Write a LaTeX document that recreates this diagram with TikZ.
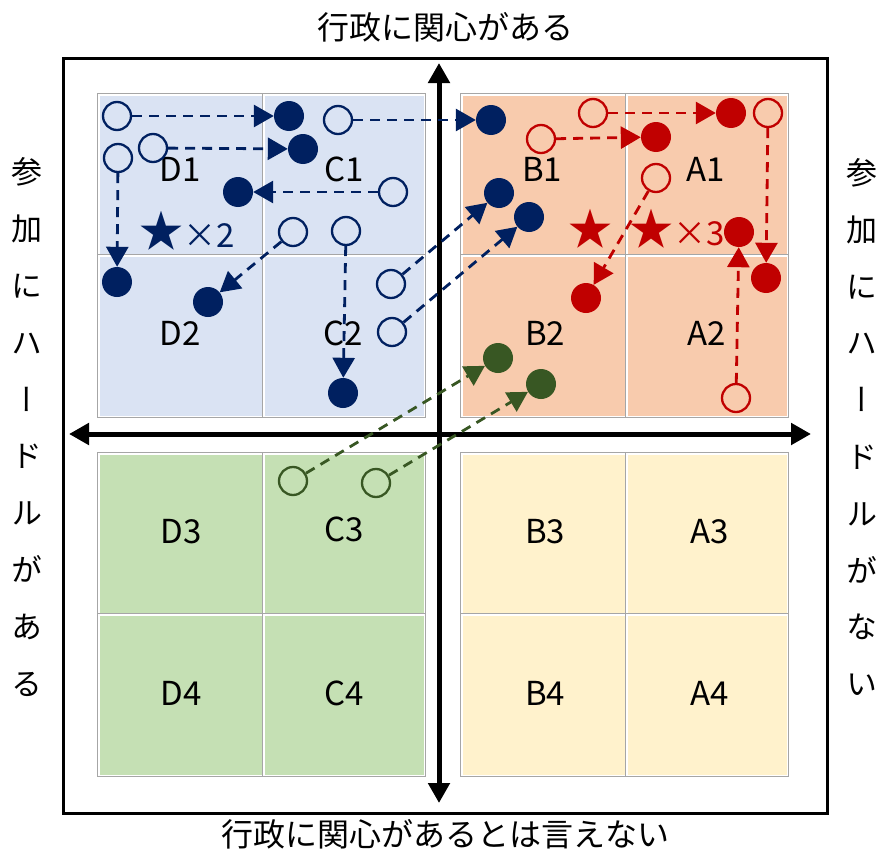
\documentclass[tikz,border=0pt]{standalone}
\usepackage{fontspec}
\setmainfont{Noto Sans CJK JP}
\newfontfamily\tatefont[RawFeature=+vert]{Noto Sans CJK JP}
\usetikzlibrary{arrows.meta}
\definecolor{navy}{HTML}{002060}
\definecolor{crimson}{HTML}{C00000}
\definecolor{moss}{HTML}{385723}
\definecolor{qblue}{HTML}{DAE3F3}
\definecolor{qorange}{HTML}{F8CBAD}
\definecolor{qgreen}{HTML}{C5E0B4}
\definecolor{qyellow}{HTML}{FFF2CC}
\newcommand{\bigstar}{{\fontsize{44}{44}\selectfont ★}}
\begin{document}
\begin{tikzpicture}[x=1pt,y=-1pt,
  cellframe/.style={draw=black!35, line width=0.8pt},
  celllabel/.style={font=\fontsize{33}{36}\selectfont, text=black, inner sep=0pt},
  axisline/.style={line width=5pt, {Triangle[length=20pt,width=21pt]}-{Triangle[length=20pt,width=21pt]}},
  before/.style={circle, minimum size=28pt, inner sep=0pt, line width=2.3pt, draw=#1},
  after/.style={circle, minimum size=30pt, inner sep=0pt, fill=#1},
  move/.style={draw=#1, line width=2.8pt, dash pattern=on 10pt off 7pt, -{Triangle[length=20pt,width=22pt]}},
  sidetext/.style={font=\tatefont\fontsize{31}{56.8}\selectfont, align=center, inner sep=0pt},
  axistext/.style={font=\fontsize{32}{36}\selectfont, inner sep=0pt},
  startext/.style={font=\fontsize{33}{36}\selectfont, text=#1, inner sep=0pt}
]
\useasboundingbox (0,0) rectangle (878,851);
\fill[white] (0,0) rectangle (878,851);

% outer frame
\draw[line width=3pt] (63,59) rectangle (827,813);

% quadrant frames and cells
\newcommand{\quadrant}[5]{% x0 y0 xm ym colour ; cells 3pt inset
  \draw[cellframe] (#1,#2) rectangle ++(328,324);
  \draw[cellframe] (#3,#2) -- ++(0,324);
  \draw[cellframe] (#1,#4) -- ++(328,0);
  \fill[#5] (#1+3,#2+3) rectangle (#3-0.5,#4-0.5);
  \fill[#5] (#3+2.5,#2+3) rectangle (#1+327,#4-0.5);
  \fill[#5] (#1+3,#4+2.5) rectangle (#3-0.5,#2+323);
  \fill[#5] (#3+2.5,#4+2.5) rectangle (#1+327,#2+323);
}
\quadrant{97}{93}{262}{254}{qblue}
\quadrant{460}{93}{625}{254}{qorange}
\quadrant{97}{452}{262}{613}{qgreen}
\quadrant{460}{452}{625}{613}{qyellow}

% cell labels
\node[celllabel] (d1) at (180,169) {D1};
\node[celllabel] (c1) at (344,169) {C1};
\node[celllabel] (d2) at (180,333) {D2};
\node[celllabel] (c2) at (343,333) {C2};
\node[celllabel] (b1) at (542,169) {B1};
\node[celllabel] (a1) at (706,169) {A1};
\node[celllabel] (b2) at (545,333) {B2};
\node[celllabel] (a2) at (707,333) {A2};
\node[celllabel] (d3) at (181,532) {D3};
\node[celllabel] (c3) at (344,529) {C3};
\node[celllabel] (d4) at (181,693) {D4};
\node[celllabel] (c4) at (344,693) {C4};
\node[celllabel] (b3) at (545,532) {B3};
\node[celllabel] (a3) at (710,532) {A3};
\node[celllabel] (b4) at (545,693) {B4};
\node[celllabel] (a4) at (710,693) {A4};

% stars
\node[startext=navy, anchor=base] (starD) at (187,247) {\bigstar×2};
\node[startext=crimson, anchor=base] (starB) at (590,245) {\bigstar};
\node[startext=crimson, anchor=base] (starA) at (677,245) {\bigstar×3};

% axes
\coordinate (xl) at (69,434);
\coordinate (xr) at (811,434);
\coordinate (yt) at (439,63);
\coordinate (yb) at (439,803);
\draw[axisline] (xl) -- (xr);
\draw[axisline] (yt) -- (yb);

% axis captions
\node[axistext] (top) at (445,27) {行政に関心がある};
\node[axistext] (bottom) at (445,834) {行政に関心があるとは言えない};
\node[sidetext] (left) at (27,427) {参\\加\\に\\ハ\\ー\\ド\\ル\\が\\あ\\る};
\node[sidetext] (right) at (862,427) {参\\加\\に\\ハ\\ー\\ド\\ル\\が\\な\\い};

% navy moves
\node[before=navy] (n1s) at (117,116) {};
\node[after=navy]  (n1e) at (289,116) {};
\node[before=navy] (n2s) at (153,148) {};
\node[after=navy]  (n2e) at (303,149) {};
\node[before=navy] (n3s) at (118,158) {};
\node[after=navy]  (n3e) at (117,282) {};
\node[before=navy] (n4s) at (393,192) {};
\node[after=navy]  (n4e) at (238,192) {};
\node[before=navy] (n5s) at (293,232) {};
\node[after=navy]  (n5e) at (208,302) {};
\node[before=navy] (n6s) at (346,231) {};
\node[after=navy]  (n6e) at (343,393) {};
\node[before=navy] (n7s) at (338,120) {};
\node[after=navy]  (n7e) at (491,120) {};
\node[before=navy] (n8s) at (391,284) {};
\node[after=navy]  (n8e) at (499,193) {};
\node[before=navy] (n9s) at (392,332) {};
\node[after=navy]  (n9e) at (529,217) {};
\foreach \i in {1,...,9} \draw[move=navy] (n\i s) -- (n\i e);

% crimson moves
\node[before=crimson] (r1s) at (593,113) {};
\node[after=crimson]  (r1e) at (731,113) {};
\node[before=crimson] (r2s) at (541,139) {};
\node[after=crimson]  (r2e) at (656,137) {};
\node[before=crimson] (r3s) at (768,113) {};
\node[after=crimson]  (r3e) at (766,278) {};
\node[before=crimson] (r4s) at (656,178) {};
\node[after=crimson]  (r4e) at (586,298) {};
\node[before=crimson] (r5s) at (736,398) {};
\node[after=crimson]  (r5e) at (739,232) {};
\foreach \i in {1,...,5} \draw[move=crimson] (r\i s) -- (r\i e);

% moss moves
\node[before=moss] (g1s) at (293,481) {};
\node[after=moss]  (g1e) at (498,358) {};
\node[before=moss] (g2s) at (376,483) {};
\node[after=moss]  (g2e) at (541,384) {};
\foreach \i in {1,2} \draw[move=moss] (g\i s) -- (g\i e);
\end{tikzpicture}
\end{document}
